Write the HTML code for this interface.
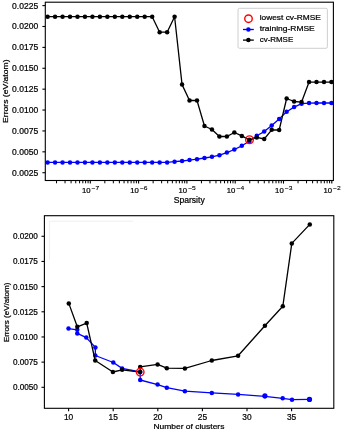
<!DOCTYPE html><html><head><meta charset="utf-8"><style>html,body{margin:0;padding:0;background:#fff;}svg{display:block;filter:blur(0.3px);} text{stroke:#000;stroke-width:0.22px;}</style></head><body>
<svg width="342" height="431" viewBox="0 0 342 431" font-family='"Liberation Sans", sans-serif'>
<rect width="342" height="431" fill="#fff"/>
<line x1="42.40" y1="172.72" x2="45.30" y2="172.72" stroke="#000" stroke-width="1.1"/>
<text x="38.20" y="175.72" font-size="8.50" text-anchor="end" textLength="26.10" lengthAdjust="spacingAndGlyphs" fill="#000" >0.0025</text>
<line x1="42.40" y1="151.83" x2="45.30" y2="151.83" stroke="#000" stroke-width="1.1"/>
<text x="38.20" y="154.83" font-size="8.50" text-anchor="end" textLength="26.10" lengthAdjust="spacingAndGlyphs" fill="#000" >0.0050</text>
<line x1="42.40" y1="130.94" x2="45.30" y2="130.94" stroke="#000" stroke-width="1.1"/>
<text x="38.20" y="133.94" font-size="8.50" text-anchor="end" textLength="26.10" lengthAdjust="spacingAndGlyphs" fill="#000" >0.0075</text>
<line x1="42.40" y1="110.05" x2="45.30" y2="110.05" stroke="#000" stroke-width="1.1"/>
<text x="38.20" y="113.05" font-size="8.50" text-anchor="end" textLength="26.10" lengthAdjust="spacingAndGlyphs" fill="#000" >0.0100</text>
<line x1="42.40" y1="89.16" x2="45.30" y2="89.16" stroke="#000" stroke-width="1.1"/>
<text x="38.20" y="92.16" font-size="8.50" text-anchor="end" textLength="26.10" lengthAdjust="spacingAndGlyphs" fill="#000" >0.0125</text>
<line x1="42.40" y1="68.27" x2="45.30" y2="68.27" stroke="#000" stroke-width="1.1"/>
<text x="38.20" y="71.27" font-size="8.50" text-anchor="end" textLength="26.10" lengthAdjust="spacingAndGlyphs" fill="#000" >0.0150</text>
<line x1="42.40" y1="47.38" x2="45.30" y2="47.38" stroke="#000" stroke-width="1.1"/>
<text x="38.20" y="50.38" font-size="8.50" text-anchor="end" textLength="26.10" lengthAdjust="spacingAndGlyphs" fill="#000" >0.0175</text>
<line x1="42.40" y1="26.49" x2="45.30" y2="26.49" stroke="#000" stroke-width="1.1"/>
<text x="38.20" y="29.49" font-size="8.50" text-anchor="end" textLength="26.10" lengthAdjust="spacingAndGlyphs" fill="#000" >0.0200</text>
<line x1="42.40" y1="5.60" x2="45.30" y2="5.60" stroke="#000" stroke-width="1.1"/>
<text x="38.20" y="8.60" font-size="8.50" text-anchor="end" textLength="26.10" lengthAdjust="spacingAndGlyphs" fill="#000" >0.0225</text>
<line x1="56.54" y1="180.50" x2="56.54" y2="183.30" stroke="#000" stroke-width="1.0"/>
<line x1="65.04" y1="180.50" x2="65.04" y2="183.30" stroke="#000" stroke-width="1.0"/>
<line x1="71.08" y1="180.50" x2="71.08" y2="183.30" stroke="#000" stroke-width="1.0"/>
<line x1="75.76" y1="180.50" x2="75.76" y2="183.30" stroke="#000" stroke-width="1.0"/>
<line x1="79.58" y1="180.50" x2="79.58" y2="183.30" stroke="#000" stroke-width="1.0"/>
<line x1="82.82" y1="180.50" x2="82.82" y2="183.30" stroke="#000" stroke-width="1.0"/>
<line x1="85.62" y1="180.50" x2="85.62" y2="183.30" stroke="#000" stroke-width="1.0"/>
<line x1="88.09" y1="180.50" x2="88.09" y2="183.30" stroke="#000" stroke-width="1.0"/>
<line x1="90.30" y1="180.50" x2="90.30" y2="183.60" stroke="#000" stroke-width="1.1"/>
<line x1="104.84" y1="180.50" x2="104.84" y2="183.30" stroke="#000" stroke-width="1.0"/>
<line x1="113.34" y1="180.50" x2="113.34" y2="183.30" stroke="#000" stroke-width="1.0"/>
<line x1="119.38" y1="180.50" x2="119.38" y2="183.30" stroke="#000" stroke-width="1.0"/>
<line x1="124.06" y1="180.50" x2="124.06" y2="183.30" stroke="#000" stroke-width="1.0"/>
<line x1="127.88" y1="180.50" x2="127.88" y2="183.30" stroke="#000" stroke-width="1.0"/>
<line x1="131.12" y1="180.50" x2="131.12" y2="183.30" stroke="#000" stroke-width="1.0"/>
<line x1="133.92" y1="180.50" x2="133.92" y2="183.30" stroke="#000" stroke-width="1.0"/>
<line x1="136.39" y1="180.50" x2="136.39" y2="183.30" stroke="#000" stroke-width="1.0"/>
<line x1="138.60" y1="180.50" x2="138.60" y2="183.60" stroke="#000" stroke-width="1.1"/>
<line x1="153.14" y1="180.50" x2="153.14" y2="183.30" stroke="#000" stroke-width="1.0"/>
<line x1="161.64" y1="180.50" x2="161.64" y2="183.30" stroke="#000" stroke-width="1.0"/>
<line x1="167.68" y1="180.50" x2="167.68" y2="183.30" stroke="#000" stroke-width="1.0"/>
<line x1="172.36" y1="180.50" x2="172.36" y2="183.30" stroke="#000" stroke-width="1.0"/>
<line x1="176.18" y1="180.50" x2="176.18" y2="183.30" stroke="#000" stroke-width="1.0"/>
<line x1="179.42" y1="180.50" x2="179.42" y2="183.30" stroke="#000" stroke-width="1.0"/>
<line x1="182.22" y1="180.50" x2="182.22" y2="183.30" stroke="#000" stroke-width="1.0"/>
<line x1="184.69" y1="180.50" x2="184.69" y2="183.30" stroke="#000" stroke-width="1.0"/>
<line x1="186.90" y1="180.50" x2="186.90" y2="183.60" stroke="#000" stroke-width="1.1"/>
<line x1="201.44" y1="180.50" x2="201.44" y2="183.30" stroke="#000" stroke-width="1.0"/>
<line x1="209.94" y1="180.50" x2="209.94" y2="183.30" stroke="#000" stroke-width="1.0"/>
<line x1="215.98" y1="180.50" x2="215.98" y2="183.30" stroke="#000" stroke-width="1.0"/>
<line x1="220.66" y1="180.50" x2="220.66" y2="183.30" stroke="#000" stroke-width="1.0"/>
<line x1="224.48" y1="180.50" x2="224.48" y2="183.30" stroke="#000" stroke-width="1.0"/>
<line x1="227.72" y1="180.50" x2="227.72" y2="183.30" stroke="#000" stroke-width="1.0"/>
<line x1="230.52" y1="180.50" x2="230.52" y2="183.30" stroke="#000" stroke-width="1.0"/>
<line x1="232.99" y1="180.50" x2="232.99" y2="183.30" stroke="#000" stroke-width="1.0"/>
<line x1="235.20" y1="180.50" x2="235.20" y2="183.60" stroke="#000" stroke-width="1.1"/>
<line x1="249.74" y1="180.50" x2="249.74" y2="183.30" stroke="#000" stroke-width="1.0"/>
<line x1="258.24" y1="180.50" x2="258.24" y2="183.30" stroke="#000" stroke-width="1.0"/>
<line x1="264.28" y1="180.50" x2="264.28" y2="183.30" stroke="#000" stroke-width="1.0"/>
<line x1="268.96" y1="180.50" x2="268.96" y2="183.30" stroke="#000" stroke-width="1.0"/>
<line x1="272.78" y1="180.50" x2="272.78" y2="183.30" stroke="#000" stroke-width="1.0"/>
<line x1="276.02" y1="180.50" x2="276.02" y2="183.30" stroke="#000" stroke-width="1.0"/>
<line x1="278.82" y1="180.50" x2="278.82" y2="183.30" stroke="#000" stroke-width="1.0"/>
<line x1="281.29" y1="180.50" x2="281.29" y2="183.30" stroke="#000" stroke-width="1.0"/>
<line x1="283.50" y1="180.50" x2="283.50" y2="183.60" stroke="#000" stroke-width="1.1"/>
<line x1="298.04" y1="180.50" x2="298.04" y2="183.30" stroke="#000" stroke-width="1.0"/>
<line x1="306.54" y1="180.50" x2="306.54" y2="183.30" stroke="#000" stroke-width="1.0"/>
<line x1="312.58" y1="180.50" x2="312.58" y2="183.30" stroke="#000" stroke-width="1.0"/>
<line x1="317.26" y1="180.50" x2="317.26" y2="183.30" stroke="#000" stroke-width="1.0"/>
<line x1="321.08" y1="180.50" x2="321.08" y2="183.30" stroke="#000" stroke-width="1.0"/>
<line x1="324.32" y1="180.50" x2="324.32" y2="183.30" stroke="#000" stroke-width="1.0"/>
<line x1="327.12" y1="180.50" x2="327.12" y2="183.30" stroke="#000" stroke-width="1.0"/>
<line x1="329.59" y1="180.50" x2="329.59" y2="183.30" stroke="#000" stroke-width="1.0"/>
<line x1="331.80" y1="180.50" x2="331.80" y2="183.60" stroke="#000" stroke-width="1.1"/>
<text x="81.90" y="193.1" font-size="7.7" textLength="8.6" lengthAdjust="spacingAndGlyphs">10</text>
<text x="91.60" y="190.4" font-size="5.9" textLength="7.6" lengthAdjust="spacingAndGlyphs" style="stroke-width:0.12px">−7</text>
<text x="130.20" y="193.1" font-size="7.7" textLength="8.6" lengthAdjust="spacingAndGlyphs">10</text>
<text x="139.90" y="190.4" font-size="5.9" textLength="7.6" lengthAdjust="spacingAndGlyphs" style="stroke-width:0.12px">−6</text>
<text x="178.50" y="193.1" font-size="7.7" textLength="8.6" lengthAdjust="spacingAndGlyphs">10</text>
<text x="188.20" y="190.4" font-size="5.9" textLength="7.6" lengthAdjust="spacingAndGlyphs" style="stroke-width:0.12px">−5</text>
<text x="226.80" y="193.1" font-size="7.7" textLength="8.6" lengthAdjust="spacingAndGlyphs">10</text>
<text x="236.50" y="190.4" font-size="5.9" textLength="7.6" lengthAdjust="spacingAndGlyphs" style="stroke-width:0.12px">−4</text>
<text x="275.10" y="193.1" font-size="7.7" textLength="8.6" lengthAdjust="spacingAndGlyphs">10</text>
<text x="284.80" y="190.4" font-size="5.9" textLength="7.6" lengthAdjust="spacingAndGlyphs" style="stroke-width:0.12px">−3</text>
<text x="323.40" y="193.1" font-size="7.7" textLength="8.6" lengthAdjust="spacingAndGlyphs">10</text>
<text x="333.10" y="190.4" font-size="5.9" textLength="7.6" lengthAdjust="spacingAndGlyphs" style="stroke-width:0.12px">−2</text>
<text x="189.20" y="203.40" font-size="8.30" text-anchor="middle" textLength="31.00" lengthAdjust="spacingAndGlyphs" fill="#000" >Sparsity</text>
<text transform="translate(7.6,91.2) rotate(-90)" x="0" y="0" font-size="7.9" text-anchor="middle" textLength="63.5" lengthAdjust="spacingAndGlyphs">Errors (eV/atom)</text>
<clipPath id="ct"><rect x="45.3" y="2.2" width="288.09999999999997" height="178.3"/></clipPath>
<g clip-path="url(#ct)">
<polyline points="47.60,162.40 55.07,162.40 62.54,162.40 70.01,162.40 77.48,162.40 84.95,162.40 92.42,162.40 99.89,162.40 107.36,162.40 114.83,162.40 122.30,162.40 129.77,162.40 137.24,162.40 144.71,162.40 152.18,162.40 159.65,162.40 167.12,162.40 174.59,161.70 182.06,161.00 189.53,160.10 197.00,159.20 204.47,158.00 211.94,156.80 219.41,155.20 226.88,152.60 234.35,149.50 241.82,145.80 249.29,141.30 256.76,135.70 264.23,131.60 271.70,125.40 279.17,118.90 286.64,111.70 294.11,107.10 301.58,103.70 309.05,103.10 316.52,103.00 323.99,103.00 331.46,103.00" fill="none" stroke="#0000ff" stroke-width="1.3" stroke-linejoin="round"/>
<circle cx="47.60" cy="162.40" r="2.25" fill="#0000ff"/>
<circle cx="55.07" cy="162.40" r="2.25" fill="#0000ff"/>
<circle cx="62.54" cy="162.40" r="2.25" fill="#0000ff"/>
<circle cx="70.01" cy="162.40" r="2.25" fill="#0000ff"/>
<circle cx="77.48" cy="162.40" r="2.25" fill="#0000ff"/>
<circle cx="84.95" cy="162.40" r="2.25" fill="#0000ff"/>
<circle cx="92.42" cy="162.40" r="2.25" fill="#0000ff"/>
<circle cx="99.89" cy="162.40" r="2.25" fill="#0000ff"/>
<circle cx="107.36" cy="162.40" r="2.25" fill="#0000ff"/>
<circle cx="114.83" cy="162.40" r="2.25" fill="#0000ff"/>
<circle cx="122.30" cy="162.40" r="2.25" fill="#0000ff"/>
<circle cx="129.77" cy="162.40" r="2.25" fill="#0000ff"/>
<circle cx="137.24" cy="162.40" r="2.25" fill="#0000ff"/>
<circle cx="144.71" cy="162.40" r="2.25" fill="#0000ff"/>
<circle cx="152.18" cy="162.40" r="2.25" fill="#0000ff"/>
<circle cx="159.65" cy="162.40" r="2.25" fill="#0000ff"/>
<circle cx="167.12" cy="162.40" r="2.25" fill="#0000ff"/>
<circle cx="174.59" cy="161.70" r="2.25" fill="#0000ff"/>
<circle cx="182.06" cy="161.00" r="2.25" fill="#0000ff"/>
<circle cx="189.53" cy="160.10" r="2.25" fill="#0000ff"/>
<circle cx="197.00" cy="159.20" r="2.25" fill="#0000ff"/>
<circle cx="204.47" cy="158.00" r="2.25" fill="#0000ff"/>
<circle cx="211.94" cy="156.80" r="2.25" fill="#0000ff"/>
<circle cx="219.41" cy="155.20" r="2.25" fill="#0000ff"/>
<circle cx="226.88" cy="152.60" r="2.25" fill="#0000ff"/>
<circle cx="234.35" cy="149.50" r="2.25" fill="#0000ff"/>
<circle cx="241.82" cy="145.80" r="2.25" fill="#0000ff"/>
<circle cx="249.29" cy="141.30" r="2.25" fill="#0000ff"/>
<circle cx="256.76" cy="135.70" r="2.25" fill="#0000ff"/>
<circle cx="264.23" cy="131.60" r="2.25" fill="#0000ff"/>
<circle cx="271.70" cy="125.40" r="2.25" fill="#0000ff"/>
<circle cx="279.17" cy="118.90" r="2.25" fill="#0000ff"/>
<circle cx="286.64" cy="111.70" r="2.25" fill="#0000ff"/>
<circle cx="294.11" cy="107.10" r="2.25" fill="#0000ff"/>
<circle cx="301.58" cy="103.70" r="2.25" fill="#0000ff"/>
<circle cx="309.05" cy="103.10" r="2.25" fill="#0000ff"/>
<circle cx="316.52" cy="103.00" r="2.25" fill="#0000ff"/>
<circle cx="323.99" cy="103.00" r="2.25" fill="#0000ff"/>
<circle cx="331.46" cy="103.00" r="2.25" fill="#0000ff"/>
<polyline points="47.60,16.70 55.07,16.70 62.54,16.70 70.01,16.70 77.48,16.70 84.95,16.70 92.42,16.70 99.89,16.70 107.36,16.70 114.83,16.70 122.30,16.70 129.77,16.70 137.24,16.70 144.71,16.70 152.18,16.70 159.65,32.20 167.12,32.20 174.59,16.70 182.06,84.60 189.53,100.50 197.00,100.50 204.47,126.00 211.94,129.50 219.41,136.50 226.88,136.50 234.35,132.50 241.82,135.90 249.29,139.80 256.76,137.40 264.23,139.00 271.70,129.80 279.17,130.00 286.64,98.50 294.11,101.50 301.58,102.10 309.05,82.10 316.52,82.10 323.99,82.10 331.46,82.10" fill="none" stroke="#000" stroke-width="1.3" stroke-linejoin="round"/>
<circle cx="47.60" cy="16.70" r="2.25" fill="#000"/>
<circle cx="55.07" cy="16.70" r="2.25" fill="#000"/>
<circle cx="62.54" cy="16.70" r="2.25" fill="#000"/>
<circle cx="70.01" cy="16.70" r="2.25" fill="#000"/>
<circle cx="77.48" cy="16.70" r="2.25" fill="#000"/>
<circle cx="84.95" cy="16.70" r="2.25" fill="#000"/>
<circle cx="92.42" cy="16.70" r="2.25" fill="#000"/>
<circle cx="99.89" cy="16.70" r="2.25" fill="#000"/>
<circle cx="107.36" cy="16.70" r="2.25" fill="#000"/>
<circle cx="114.83" cy="16.70" r="2.25" fill="#000"/>
<circle cx="122.30" cy="16.70" r="2.25" fill="#000"/>
<circle cx="129.77" cy="16.70" r="2.25" fill="#000"/>
<circle cx="137.24" cy="16.70" r="2.25" fill="#000"/>
<circle cx="144.71" cy="16.70" r="2.25" fill="#000"/>
<circle cx="152.18" cy="16.70" r="2.25" fill="#000"/>
<circle cx="159.65" cy="32.20" r="2.25" fill="#000"/>
<circle cx="167.12" cy="32.20" r="2.25" fill="#000"/>
<circle cx="174.59" cy="16.70" r="2.25" fill="#000"/>
<circle cx="182.06" cy="84.60" r="2.25" fill="#000"/>
<circle cx="189.53" cy="100.50" r="2.25" fill="#000"/>
<circle cx="197.00" cy="100.50" r="2.25" fill="#000"/>
<circle cx="204.47" cy="126.00" r="2.25" fill="#000"/>
<circle cx="211.94" cy="129.50" r="2.25" fill="#000"/>
<circle cx="219.41" cy="136.50" r="2.25" fill="#000"/>
<circle cx="226.88" cy="136.50" r="2.25" fill="#000"/>
<circle cx="234.35" cy="132.50" r="2.25" fill="#000"/>
<circle cx="241.82" cy="135.90" r="2.25" fill="#000"/>
<circle cx="249.29" cy="139.80" r="2.25" fill="#000"/>
<circle cx="256.76" cy="137.40" r="2.25" fill="#000"/>
<circle cx="264.23" cy="139.00" r="2.25" fill="#000"/>
<circle cx="271.70" cy="129.80" r="2.25" fill="#000"/>
<circle cx="279.17" cy="130.00" r="2.25" fill="#000"/>
<circle cx="286.64" cy="98.50" r="2.25" fill="#000"/>
<circle cx="294.11" cy="101.50" r="2.25" fill="#000"/>
<circle cx="301.58" cy="102.10" r="2.25" fill="#000"/>
<circle cx="309.05" cy="82.10" r="2.25" fill="#000"/>
<circle cx="316.52" cy="82.10" r="2.25" fill="#000"/>
<circle cx="323.99" cy="82.10" r="2.25" fill="#000"/>
<circle cx="331.46" cy="82.10" r="2.25" fill="#000"/>
<circle cx="249.5" cy="139.7" r="3.85" fill="none" stroke="#ff0000" stroke-width="1.4"/>
</g>
<rect x="45.30" y="2.20" width="288.10" height="178.30" fill="none" stroke="#000" stroke-width="1.1"/>
<rect x="238.0" y="8.3" width="89.4" height="40.0" rx="1.5" ry="1.5" fill="#fff" fill-opacity="0.8" stroke="#c8c8c8" stroke-width="0.9"/>
<circle cx="248.5" cy="18.7" r="3.75" fill="none" stroke="#ff0000" stroke-width="1.4"/>
<line x1="243.0" y1="29.5" x2="253.8" y2="29.5" stroke="#0000ff" stroke-width="1.3"/>
<circle cx="248.4" cy="29.5" r="2.25" fill="#0000ff"/>
<line x1="243.0" y1="40.1" x2="253.8" y2="40.1" stroke="#000" stroke-width="1.3"/>
<circle cx="248.4" cy="40.1" r="2.25" fill="#000"/>
<text x="259.70" y="20.00" font-size="7.90" text-anchor="start" textLength="61.20" lengthAdjust="spacingAndGlyphs" fill="#000" >lowest cv-RMSE</text>
<text x="259.70" y="30.90" font-size="7.90" text-anchor="start" textLength="55.06" lengthAdjust="spacingAndGlyphs" fill="#000" >training-RMSE</text>
<text x="259.70" y="41.70" font-size="7.90" text-anchor="start" textLength="33.54" lengthAdjust="spacingAndGlyphs" fill="#000" >cv-RMSE</text>
<polyline points="49.5,260 49.5,221.2 133.3,221.2" fill="none" stroke="#eeeeee" stroke-width="0.9"/>
<line x1="41.50" y1="387.30" x2="44.40" y2="387.30" stroke="#000" stroke-width="1.1"/>
<text x="37.90" y="390.25" font-size="8.50" text-anchor="end" textLength="25.00" lengthAdjust="spacingAndGlyphs" fill="#000" >0.0050</text>
<line x1="41.50" y1="362.13" x2="44.40" y2="362.13" stroke="#000" stroke-width="1.1"/>
<text x="37.90" y="365.08" font-size="8.50" text-anchor="end" textLength="25.00" lengthAdjust="spacingAndGlyphs" fill="#000" >0.0075</text>
<line x1="41.50" y1="336.96" x2="44.40" y2="336.96" stroke="#000" stroke-width="1.1"/>
<text x="37.90" y="339.91" font-size="8.50" text-anchor="end" textLength="25.00" lengthAdjust="spacingAndGlyphs" fill="#000" >0.0100</text>
<line x1="41.50" y1="311.79" x2="44.40" y2="311.79" stroke="#000" stroke-width="1.1"/>
<text x="37.90" y="314.74" font-size="8.50" text-anchor="end" textLength="25.00" lengthAdjust="spacingAndGlyphs" fill="#000" >0.0125</text>
<line x1="41.50" y1="286.62" x2="44.40" y2="286.62" stroke="#000" stroke-width="1.1"/>
<text x="37.90" y="289.57" font-size="8.50" text-anchor="end" textLength="25.00" lengthAdjust="spacingAndGlyphs" fill="#000" >0.0150</text>
<line x1="41.50" y1="261.45" x2="44.40" y2="261.45" stroke="#000" stroke-width="1.1"/>
<text x="37.90" y="264.40" font-size="8.50" text-anchor="end" textLength="25.00" lengthAdjust="spacingAndGlyphs" fill="#000" >0.0175</text>
<line x1="41.50" y1="236.28" x2="44.40" y2="236.28" stroke="#000" stroke-width="1.1"/>
<text x="37.90" y="239.23" font-size="8.50" text-anchor="end" textLength="25.00" lengthAdjust="spacingAndGlyphs" fill="#000" >0.0200</text>
<line x1="68.60" y1="408.30" x2="68.60" y2="411.20" stroke="#000" stroke-width="1.1"/>
<text x="68.60" y="419.70" font-size="8.50" text-anchor="middle" textLength="9.29" lengthAdjust="spacingAndGlyphs" fill="#000" >10</text>
<line x1="113.20" y1="408.30" x2="113.20" y2="411.20" stroke="#000" stroke-width="1.1"/>
<text x="113.20" y="419.70" font-size="8.50" text-anchor="middle" textLength="9.29" lengthAdjust="spacingAndGlyphs" fill="#000" >15</text>
<line x1="157.80" y1="408.30" x2="157.80" y2="411.20" stroke="#000" stroke-width="1.1"/>
<text x="157.80" y="419.70" font-size="8.50" text-anchor="middle" textLength="9.29" lengthAdjust="spacingAndGlyphs" fill="#000" >20</text>
<line x1="202.40" y1="408.30" x2="202.40" y2="411.20" stroke="#000" stroke-width="1.1"/>
<text x="202.40" y="419.70" font-size="8.50" text-anchor="middle" textLength="9.29" lengthAdjust="spacingAndGlyphs" fill="#000" >25</text>
<line x1="247.00" y1="408.30" x2="247.00" y2="411.20" stroke="#000" stroke-width="1.1"/>
<text x="247.00" y="419.70" font-size="8.50" text-anchor="middle" textLength="9.29" lengthAdjust="spacingAndGlyphs" fill="#000" >30</text>
<line x1="291.60" y1="408.30" x2="291.60" y2="411.20" stroke="#000" stroke-width="1.1"/>
<text x="291.60" y="419.70" font-size="8.50" text-anchor="middle" textLength="9.29" lengthAdjust="spacingAndGlyphs" fill="#000" >35</text>
<text x="188.90" y="429.10" font-size="7.60" text-anchor="middle" textLength="71.00" lengthAdjust="spacingAndGlyphs" fill="#000" >Number of clusters</text>
<text transform="translate(8.7,312.4) rotate(-90)" x="0" y="0" font-size="7.6" text-anchor="middle" textLength="59.6" lengthAdjust="spacingAndGlyphs">Errors (eV/atom)</text>
<polyline points="68.50,328.60 77.30,329.80 77.30,333.40 86.30,337.60 95.40,347.40 95.30,355.50 113.30,362.50 122.10,368.40 140.20,372.00 140.20,380.00 157.60,384.60 166.80,387.70 184.90,391.20 211.80,392.90 238.10,394.40 264.90,396.30 282.70,398.30 292.00,399.70 309.50,399.30" fill="none" stroke="#0000ff" stroke-width="1.3" stroke-linejoin="round"/>
<circle cx="68.50" cy="328.60" r="2.25" fill="#0000ff"/>
<circle cx="77.30" cy="329.80" r="2.25" fill="#0000ff"/>
<circle cx="77.30" cy="333.40" r="2.25" fill="#0000ff"/>
<circle cx="86.30" cy="337.60" r="2.25" fill="#0000ff"/>
<circle cx="95.40" cy="347.40" r="2.25" fill="#0000ff"/>
<circle cx="95.30" cy="355.50" r="2.25" fill="#0000ff"/>
<circle cx="113.30" cy="362.50" r="2.25" fill="#0000ff"/>
<circle cx="122.10" cy="368.40" r="2.25" fill="#0000ff"/>
<circle cx="140.20" cy="372.00" r="2.25" fill="#0000ff"/>
<circle cx="140.20" cy="380.00" r="2.25" fill="#0000ff"/>
<circle cx="157.60" cy="384.60" r="2.25" fill="#0000ff"/>
<circle cx="166.80" cy="387.70" r="2.25" fill="#0000ff"/>
<circle cx="184.90" cy="391.20" r="2.25" fill="#0000ff"/>
<circle cx="211.80" cy="392.90" r="2.25" fill="#0000ff"/>
<circle cx="238.10" cy="394.40" r="2.25" fill="#0000ff"/>
<circle cx="264.90" cy="396.30" r="2.25" fill="#0000ff"/>
<circle cx="282.70" cy="398.30" r="2.25" fill="#0000ff"/>
<circle cx="292.00" cy="399.70" r="2.25" fill="#0000ff"/>
<circle cx="309.50" cy="399.30" r="2.25" fill="#0000ff"/>
<circle cx="264.90" cy="395.80" r="2.6" fill="#0000ff"/>
<circle cx="309.50" cy="399.40" r="2.6" fill="#0000ff"/>
<polyline points="68.80,303.40 77.30,326.80 86.70,323.10 95.20,360.50 112.90,372.00 122.10,369.80 140.20,372.10 140.20,366.90 157.60,364.40 166.80,368.20 184.90,368.40 211.80,360.50 238.10,355.80 264.90,325.80 282.80,306.30 291.80,243.40 309.80,224.40" fill="none" stroke="#000" stroke-width="1.3" stroke-linejoin="round"/>
<circle cx="68.80" cy="303.40" r="2.25" fill="#000"/>
<circle cx="77.30" cy="326.80" r="2.25" fill="#000"/>
<circle cx="86.70" cy="323.10" r="2.25" fill="#000"/>
<circle cx="95.20" cy="360.50" r="2.25" fill="#000"/>
<circle cx="112.90" cy="372.00" r="2.25" fill="#000"/>
<circle cx="122.10" cy="369.80" r="2.25" fill="#000"/>
<circle cx="140.20" cy="372.10" r="2.25" fill="#000"/>
<circle cx="140.20" cy="366.90" r="2.25" fill="#000"/>
<circle cx="157.60" cy="364.40" r="2.25" fill="#000"/>
<circle cx="166.80" cy="368.20" r="2.25" fill="#000"/>
<circle cx="184.90" cy="368.40" r="2.25" fill="#000"/>
<circle cx="211.80" cy="360.50" r="2.25" fill="#000"/>
<circle cx="238.10" cy="355.80" r="2.25" fill="#000"/>
<circle cx="264.90" cy="325.80" r="2.25" fill="#000"/>
<circle cx="282.80" cy="306.30" r="2.25" fill="#000"/>
<circle cx="291.80" cy="243.40" r="2.25" fill="#000"/>
<circle cx="309.80" cy="224.40" r="2.25" fill="#000"/>
<circle cx="140.2" cy="372.1" r="3.8" fill="none" stroke="#ff0000" stroke-width="1.4"/>
<rect x="44.40" y="215.70" width="289.40" height="192.60" fill="none" stroke="#000" stroke-width="1.1"/>
</svg></body></html>
